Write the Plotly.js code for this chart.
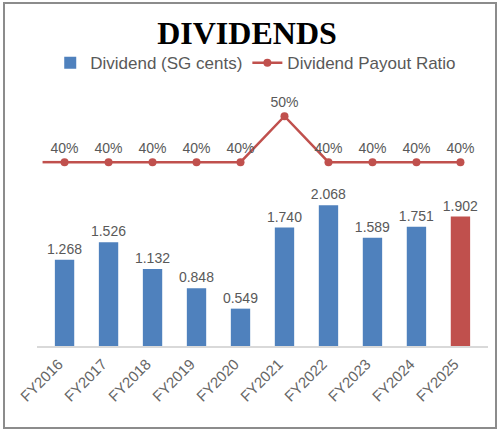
<!DOCTYPE html>
<html>
<head>
<meta charset="utf-8">
<script src="https://cdn.plot.ly/plotly-3.0.1.min.js"></script>
<style>
  html, body { margin: 0; padding: 0; background: #fff; }
  #wrap { position: relative; width: 501px; height: 432px; }
  #chart { position: absolute; left: 0; top: 0; width: 501px; height: 432px; }
  #frame { position: absolute; left: 3px; top: 2px; width: 490px; height: 423px;
           border: 2px solid #8c8c8c; pointer-events: none; }
</style>
</head>
<body>
<div id="wrap">
  <div id="chart"></div>
  <div id="frame"></div>
</div>
<script>
const categories = ["FY2016","FY2017","FY2018","FY2019","FY2020","FY2021","FY2022","FY2023","FY2024","FY2025"];
const dividends = [1.268, 1.526, 1.132, 0.848, 0.549, 1.740, 2.068, 1.589, 1.751, 1.902];
const payoutRatio = [40, 40, 40, 40, 40, 50, 40, 40, 40, 40];

const BLUE = "#4f81bd";
const RED = "#c0504d";
const GRAY = "#595959";
const FONT = "Liberation Sans, Arial, sans-serif";

const barColors = categories.map((c, i) => i === categories.length - 1 ? RED : BLUE);

const bars = {
  type: "bar",
  name: "Dividend (SG cents)",
  x: categories,
  y: dividends,
  marker: { color: barColors },
  text: dividends.map(v => v.toFixed(3)),
  textposition: "outside",
  constraintext: "none",
  cliponaxis: false,
  textfont: { family: FONT, size: 14, color: GRAY },
  hoverinfo: "x+y"
};

const line = {
  type: "scatter",
  mode: "lines+markers+text",
  name: "Dividend Payout Ratio",
  x: categories,
  y: payoutRatio,
  yaxis: "y2",
  line: { color: RED, width: 2.5 },
  marker: { color: RED, size: 8 },
  text: payoutRatio.map(v => v + "%"),
  textposition: "top center",
  cliponaxis: false,
  textfont: { family: FONT, size: 14, color: GRAY }
};

const layout = {
  width: 501,
  height: 432,
  margin: { l: 37, r: 13, t: 90, b: 86 },
  paper_bgcolor: "#ffffff",
  plot_bgcolor: "#ffffff",
  showlegend: true,
  bargap: 0.56,
  title: {
    text: "<b>DIVIDENDS</b>",
    font: { family: "Liberation Serif, Times New Roman, serif", size: 32, color: "#000000" },
    x: 0.493, xref: "container", xanchor: "center",
    y: 0.925, yref: "container", yanchor: "middle"
  },
  legend: {
    orientation: "h",
    x: 0.485, xanchor: "center",
    y: 1.105, yanchor: "middle",
    font: { family: FONT, size: 17, color: GRAY },
    itemwidth: 30,
    traceorder: "normal",
    bgcolor: "rgba(0,0,0,0)"
  },
  xaxis: {
    type: "category",
    tickangle: -45,
    tickfont: { family: FONT, size: 15, color: "#666666" },
    ticklabelshift: -6,
    ticklabelstandoff: 2,
    showline: true,
    linecolor: "#d9d9d9",
    linewidth: 1.5,
    ticks: "",
    showgrid: false,
    zeroline: false
  },
  yaxis: {
    range: [0, 3.762],
    visible: false,
    showgrid: false,
    zeroline: false
  },
  yaxis2: {
    range: [0, 55.7],
    overlaying: "y",
    side: "right",
    visible: false,
    showgrid: false,
    zeroline: false
  },
  shapes: [{
    type: "line",
    xref: "x", yref: "y2",
    x0: -0.5, x1: categories[0],
    y0: payoutRatio[0], y1: payoutRatio[0],
    line: { color: RED, width: 2.5 },
    layer: "below"
  }]
};

Plotly.newPlot("chart", [bars, line], layout, { staticPlot: true, displayModeBar: false });
</script>
</body>
</html>
